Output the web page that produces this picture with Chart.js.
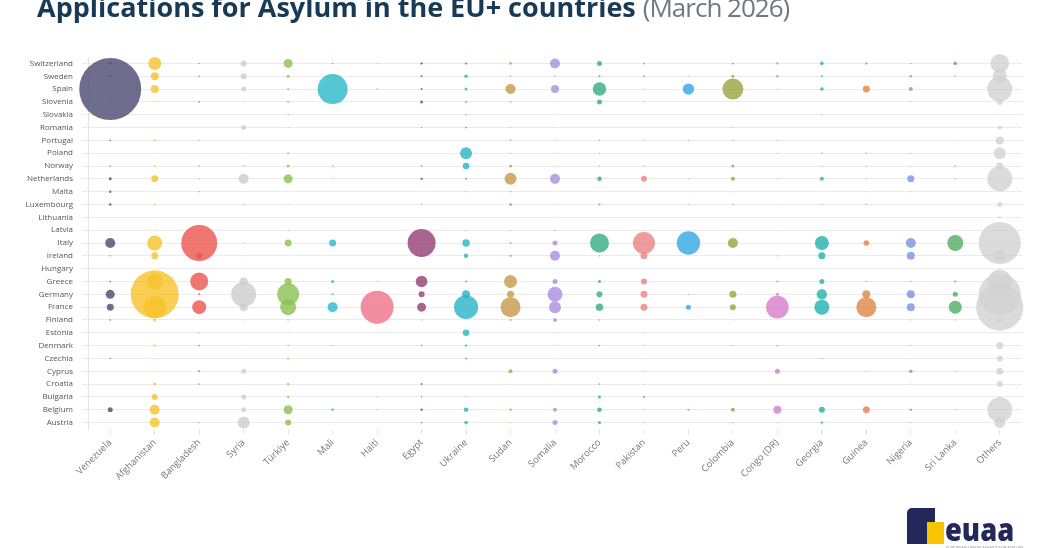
<!DOCTYPE html>
<html lang="en">
<head>
<meta charset="UTF-8">
<title>Applications for Asylum in the EU+ countries</title>
<script src="https://cdn.jsdelivr.net/npm/chart.js@4"></script>
<style>
  html, body { margin: 0; padding: 0; background: #fff; overflow: hidden; }
  #wrap { position: relative; width: 1044px; height: 548px; }
  #chart { position: absolute; left: 0; top: 0; }
  h1 {
    position: absolute; left: 37px; top: -8px; margin: 0;
    font-family: 'Open Sans', sans-serif; font-size: 27px; line-height: 30px;
    font-weight: 700; color: #183a55; white-space: nowrap;
  }
  h1 span { font-weight: 400; font-size: 26px; letter-spacing: -1px; color: #6d7a85; }
  .logo-box { position: absolute; left: 907px; top: 508px; width: 28px; height: 36px; background: #23285a; border-radius: 5px 0 0 0; }
  .logo-sq { position: absolute; left: 927px; top: 522px; width: 17px; height: 22px; background: #f6c400; }
  .logo-txt {
    position: absolute; left: 945px; top: 511px; font-family: 'Open Sans', sans-serif;
    font-weight: 800; font-size: 31px; line-height: 36px; color: #23285a;
    transform: scaleX(0.88); transform-origin: left top;
  }
  .logo-sub { position: absolute; left: 946px; top: 545px; font-family: 'Open Sans', sans-serif; font-size: 4px; color: #888; white-space: nowrap; }
</style>
</head>
<body>
<div id="wrap">
  <canvas id="chart" width="1044" height="548"></canvas>
  <h1>Applications for Asylum in the EU+ countries <span>(March 2026)</span></h1>
  <div class="logo-box"></div>
  <div class="logo-sq"></div>
  <div class="logo-txt">euaa</div>
  <div class="logo-sub">EUROPEAN UNION AGENCY FOR ASYLUM</div>
</div>

<script>
// receiving countries, top to bottom
const countries = ["Switzerland", "Sweden", "Spain", "Slovenia", "Slovakia", "Romania", "Portugal",
  "Poland", "Norway", "Netherlands", "Malta", "Luxembourg", "Lithuania", "Latvia", "Italy",
  "Ireland", "Hungary", "Greece", "Germany", "France", "Finland", "Estonia", "Denmark",
  "Czechia", "Cyprus", "Croatia", "Bulgaria", "Belgium", "Austria"];

// citizenship of applicants, left to right
const nationalities = ["Venezuela", "Afghanistan", "Bangladesh", "Syria", "Türkiye", "Mali", "Haiti",
  "Egypt", "Ukraine", "Sudan", "Somalia", "Morocco", "Pakistan", "Peru", "Colombia", "Congo (DR)",
  "Georgia", "Guinea", "Nigeria", "Sri Lanka", "Others"];

// applications (estimated), one value per country in the order above
const venezuela   = [16, 11, 10678, 3, 0, 0, 7, 0, 5, 25, 16, 16, 0, 0, 278, 5, 0, 7, 225, 136, 7, 0, 0, 4, 0, 0, 0, 70, 0];
const afghanistan = [469, 178, 178, 5, 0, 0, 16, 3, 11, 136, 0, 11, 0, 5, 625, 136, 0, 711, 6400, 1344, 25, 0, 16, 5, 3, 25, 100, 278, 278];
const bangladesh  = [5, 7, 0, 7, 0, 0, 3, 0, 5, 3, 5, 0, 0, 3, 3600, 100, 0, 900, 11, 544, 0, 3, 7, 0, 11, 7, 0, 0, 5];
const syria       = [100, 100, 70, 4, 0, 70, 0, 3, 16, 278, 3, 16, 0, 0, 7, 7, 0, 178, 1736, 178, 5, 0, 5, 0, 70, 3, 70, 70, 400];
const turkiye     = [225, 25, 11, 11, 5, 5, 0, 11, 25, 225, 0, 3, 0, 5, 136, 0, 0, 136, 1344, 711, 7, 3, 7, 11, 0, 16, 16, 225, 100];
const mali        = [7, 0, 2500, 0, 0, 0, 0, 0, 5, 3, 0, 0, 0, 0, 136, 0, 0, 25, 11, 278, 0, 0, 5, 0, 0, 0, 0, 16, 0];
const haiti       = [3, 0, 7, 0, 0, 0, 0, 0, 0, 0, 0, 0, 0, 0, 0, 0, 0, 3, 0, 3025, 0, 0, 0, 0, 0, 0, 3, 3, 0];
const egypt       = [16, 11, 11, 25, 0, 3, 0, 0, 5, 16, 0, 3, 0, 0, 2178, 11, 0, 380, 100, 225, 3, 0, 5, 0, 0, 11, 5, 16, 5];
const ukraine     = [16, 36, 25, 11, 7, 11, 0, 400, 121, 11, 3, 0, 0, 3, 150, 54, 0, 11, 178, 1600, 0, 121, 16, 11, 0, 0, 3, 59, 36];
const sudan       = [19, 7, 278, 7, 0, 3, 7, 3, 25, 400, 7, 25, 0, 3, 11, 16, 0, 469, 136, 1111, 11, 0, 0, 0, 44, 3, 0, 16, 3];
const somalia     = [278, 7, 178, 3, 0, 3, 3, 3, 3, 278, 0, 3, 0, 7, 70, 278, 0, 70, 625, 400, 44, 3, 3, 0, 70, 0, 0, 44, 70];
const morocco     = [70, 11, 500, 70, 0, 0, 3, 3, 3, 59, 0, 11, 0, 0, 1003, 5, 0, 25, 100, 150, 5, 0, 7, 0, 0, 7, 25, 59, 25];
const pakistan    = [11, 11, 3, 3, 0, 0, 3, 0, 7, 100, 0, 0, 0, 3, 1344, 136, 0, 100, 136, 136, 0, 3, 3, 1, 3, 5, 16, 3, 3];
const peru        = [0, 3, 360, 0, 0, 0, 3, 0, 0, 3, 0, 3, 0, 0, 1520, 0, 0, 0, 5, 70, 0, 0, 0, 0, 0, 0, 0, 11, 0];
const colombia    = [11, 25, 1225, 0, 0, 3, 5, 0, 25, 44, 3, 7, 0, 0, 278, 0, 0, 0, 136, 100, 3, 0, 3, 0, 0, 0, 0, 44, 5];
const congoDR     = [16, 16, 3, 0, 0, 0, 5, 3, 0, 3, 0, 1, 0, 1, 1, 5, 0, 11, 25, 1419, 0, 0, 11, 0, 70, 0, 0, 178, 3];
const georgia     = [36, 11, 36, 0, 3, 0, 0, 5, 3, 44, 0, 3, 0, 0, 544, 136, 0, 70, 300, 625, 0, 0, 0, 3, 0, 0, 0, 100, 16];
const guinea      = [16, 1, 136, 0, 0, 0, 0, 7, 5, 3, 3, 7, 0, 0, 87, 0, 0, 5, 178, 1111, 1, 0, 0, 0, 3, 0, 0, 136, 1];
const nigeria     = [5, 16, 44, 3, 0, 0, 0, 3, 3, 136, 3, 0, 0, 0, 278, 178, 0, 5, 178, 178, 3, 0, 3, 1, 36, 3, 0, 16, 3];
const sriLanka    = [36, 5, 0, 0, 0, 0, 1, 0, 5, 5, 0, 0, 0, 0, 711, 0, 0, 11, 70, 469, 3, 0, 0, 0, 3, 0, 0, 3, 0];
const others      = [961, 544, 1736, 100, 5, 44, 178, 400, 136, 1736, 3, 70, 16, 3, 4900, 400, 3, 1600, 4900, 6136, 100, 3, 136, 100, 136, 100, 5, 1736, 336];

const series = [venezuela, afghanistan, bangladesh, syria, turkiye, mali, haiti, egypt, ukraine,
  sudan, somalia, morocco, pakistan, peru, colombia, congoDR, georgia, guinea, nigeria, sriLanka, others];

const colores = ["#4a4970", "#f8c22a", "#ec544d", "#cdcdcd", "#8cc152", "#2ab9c9", "#f07088",
  "#933f74", "#28b3c6", "#c69a4a", "#a88fe0", "#35ad82", "#eb8284", "#31a7e4", "#97a43f",
  "#d77ccd", "#22b0ad", "#df8645", "#7a94e4", "#53ad62", "#d2d2d2"];

function radio(v) {
  return 0.3 * Math.sqrt(v);
}

function conAlpha(hex, a) {
  const n = parseInt(hex.slice(1), 16);
  return `rgba(${n >> 16}, ${(n >> 8) & 255}, ${n & 255}, ${a})`;
}

const datasets = nationalities.map((nat, i) => ({
  label: nat,
  data: countries
    .map((c, j) => ({ x: nat, y: c, r: radio(series[i][j]) }))
    .filter(p => p.r > 0),
  backgroundColor: conAlpha(colores[i], 0.8),
  borderWidth: 0,
  clip: false
}));

Chart.defaults.font.family = "'Open Sans', sans-serif";

new Chart(document.getElementById('chart'), {
  type: 'bubble',
  data: { datasets: datasets },
  options: {
    responsive: false,
    animation: false,
    layout: { autoPadding: false, padding: { top: 57, right: 22, bottom: 39, left: 0 } },
    plugins: { legend: { display: false }, tooltip: { enabled: false } },
    scales: {
      x: {
        type: 'category',
        labels: nationalities,
        offset: true,
        grid: { offset: false, drawOnChartArea: false, drawTicks: true, tickLength: 6, color: '#e6e6e6' },
        border: { display: false },
        ticks: { autoSkip: false, minRotation: 45, maxRotation: 45, padding: 2, color: '#777', font: { size: 9.5 } },
        afterFit: s => { s.height = 80; }
      },
      y: {
        type: 'category',
        labels: countries,
        offset: true,
        grid: { offset: false, drawTicks: true, tickLength: 6, color: '#ebebeb' },
        border: { display: true, color: '#e3e3e3' },
        ticks: { autoSkip: false, padding: 9, color: '#555', font: { size: 8 } },
        afterFit: s => { s.width = 88; }
      }
    }
  }
});
</script>
</body>
</html>
